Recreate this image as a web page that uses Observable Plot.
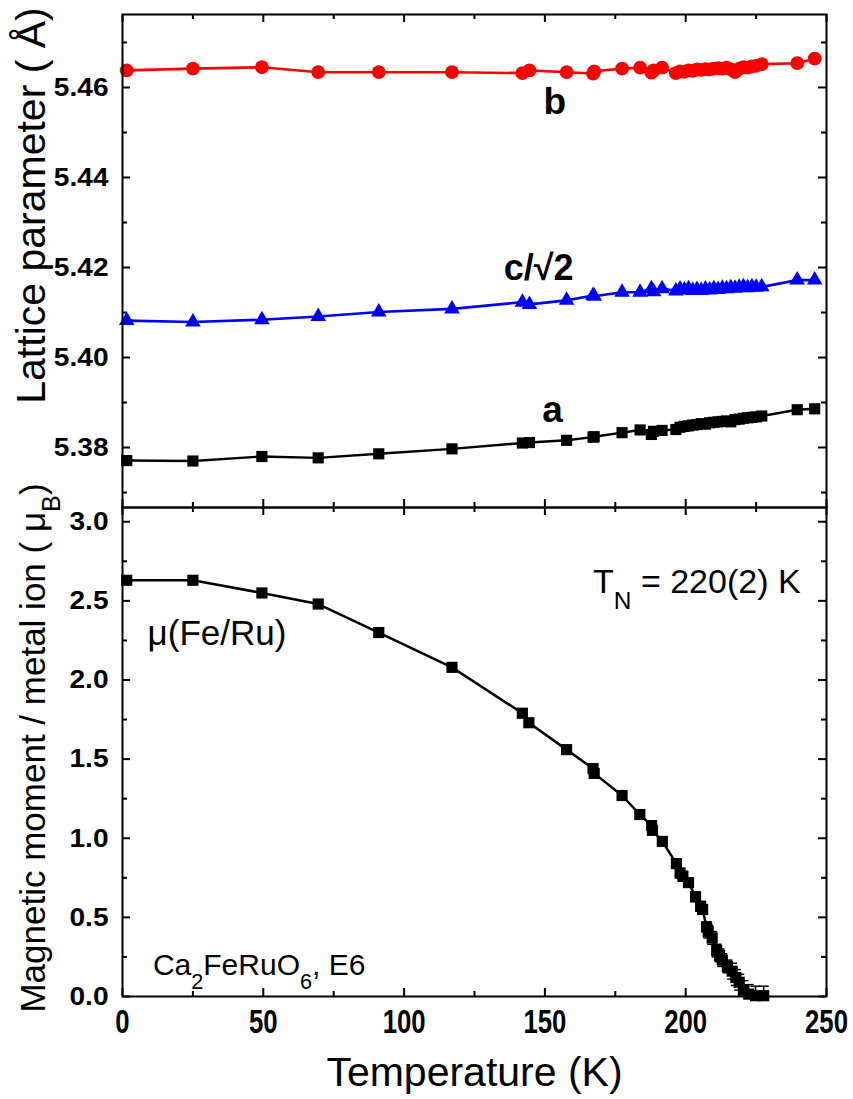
<!DOCTYPE html>
<html><head><meta charset="utf-8">
<script src="https://cdn.jsdelivr.net/npm/d3@7"></script>
<script src="https://cdn.jsdelivr.net/npm/@observablehq/plot@0.6"></script>
<style>
body{margin:0;background:#fff;}
#chart svg{display:block;}
</style></head><body><div id="chart"></div>
<script>
// ---------- data ----------
const temperature = [1.5, 25, 49.5, 69.5, 91, 117, 142, 144.5, 157.7, 167.1, 167.5, 177.4, 183.8, 187.8, 188.6, 191.6, 196.5, 198, 199.5, 201, 202.5, 204, 205.5, 207, 208.5, 210, 211.5, 213, 214.5, 216, 217.5, 219, 220.5, 222, 223.5, 225, 227, 239.6, 245.8];
const latticeA = [5.3771, 5.3770, 5.3780, 5.3777, 5.3786, 5.3797, 5.3810, 5.3811, 5.3816, 5.3823, 5.3824, 5.3833, 5.3839, 5.3829, 5.3836, 5.3838, 5.3840, 5.3845, 5.3847, 5.3848, 5.3850, 5.3851, 5.3853, 5.3852, 5.3855, 5.3856, 5.3857, 5.3858, 5.3859, 5.3857, 5.3862, 5.3863, 5.3865, 5.3866, 5.3867, 5.3868, 5.3870, 5.3884, 5.3886];
const latticeCsqrt2 = [5.4082, 5.4079, 5.4084, 5.4091, 5.4101, 5.4108, 5.4123, 5.4118, 5.4127, 5.4138, 5.4136, 5.4145, 5.4145, 5.4153, 5.4146, 5.4153, 5.4148, 5.4152, 5.4150, 5.4153, 5.4149, 5.4151, 5.4149, 5.4152, 5.4150, 5.4153, 5.4151, 5.4154, 5.4153, 5.4155, 5.4154, 5.4156, 5.4157, 5.4155, 5.4157, 5.4156, 5.4157, 5.4172, 5.4172];
const latticeB = [5.4638, 5.4642, 5.4645, 5.4634, 5.4634, 5.4634, 5.4632, 5.4638, 5.4634, 5.4631, 5.4636, 5.4642, 5.4644, 5.4633, 5.4638, 5.4644, 5.4632, 5.4636, 5.4635, 5.4638, 5.4637, 5.4640, 5.4639, 5.4641, 5.4640, 5.4642, 5.4643, 5.4642, 5.4644, 5.4640, 5.4634, 5.4642, 5.4645, 5.4644, 5.4647, 5.4648, 5.4652, 5.4654, 5.4664];

const momentT = [1.5, 25, 49.5, 69.5, 91, 117, 142, 144.3, 157.7, 167.1, 167.5, 177.4, 183.7, 187.9, 188.2, 191.7, 196.7, 198, 199, 201, 203.5, 205.3, 206, 207.4, 208, 209.4, 211, 212, 213, 214.8, 216.5, 217.8, 219, 220.5, 222.4, 224.8, 227.7];
const moment = [2.63, 2.63, 2.55, 2.48, 2.30, 2.08, 1.79, 1.73, 1.56, 1.44, 1.41, 1.27, 1.15, 1.08, 1.05, 0.98, 0.84, 0.78, 0.76, 0.72, 0.63, 0.57, 0.55, 0.44, 0.41, 0.37, 0.29, 0.26, 0.23, 0.19, 0.16, 0.12, 0.09, 0.04, 0.015, 0.005, 0.005];
const momentErr = [0.02, 0.02, 0.02, 0.02, 0.02, 0.02, 0.02, 0.02, 0.02, 0.02, 0.02, 0.02, 0.02, 0.02, 0.02, 0.02, 0.03, 0.03, 0.03, 0.03, 0.03, 0.03, 0.03, 0.03, 0.04, 0.04, 0.04, 0.04, 0.04, 0.04, 0.05, 0.05, 0.05, 0.06, 0.06, 0.06, 0.06];

const xTicks = [0, 50, 100, 150, 200, 250];
const xMinorTicks = [25, 75, 125, 175, 225];
const yTicksTop = [5.38, 5.40, 5.42, 5.44, 5.46];
const yMinorTop = [5.37, 5.39, 5.41, 5.43, 5.45, 5.47];
const yTicksBottom = [0, 0.5, 1.0, 1.5, 2.0, 2.5, 3.0];
const yMinorBottom = [0.25, 0.75, 1.25, 1.75, 2.25, 2.75];

// ---------- layout ----------
const W = 853, ML = 122, MR = 27;
const PW = W - ML - MR;
const FONT = "'Liberation Sans', Arial, Helvetica, sans-serif";

const lat = temperature.map((T, i) => ({T, a: latticeA[i], c: latticeCsqrt2[i], b: latticeB[i]}));
const mom = momentT.map((T, i) => ({T, m: moment[i], e: momentErr[i]}));

function frameTicks(xMaj, xMin, yMaj, yMin, PH) {
  const s = {stroke: "black", strokeWidth: 2};
  return [
    Plot.tickY(yMaj, {y: d => d, insetRight: PW - 8, ...s}),
    Plot.tickY(yMaj, {y: d => d, insetLeft: PW - 8, ...s}),
    Plot.tickY(yMin, {y: d => d, insetRight: PW - 5, ...s}),
    Plot.tickY(yMin, {y: d => d, insetLeft: PW - 5, ...s}),
    Plot.tickX(xMaj, {x: d => d, insetTop: PH - 8, ...s}),
    Plot.tickX(xMaj, {x: d => d, insetBottom: PH - 8, ...s}),
    Plot.tickX(xMin, {x: d => d, insetTop: PH - 5, ...s}),
    Plot.tickX(xMin, {x: d => d, insetBottom: PH - 5, ...s})
  ];
}

// subscripts written as _{...}
function applySubscripts(svg, shift = 0.45, scale = 0.72) {
  d3.select(svg).selectAll("text").each(function () {
    const t = this.textContent;
    if (!t.includes("_{")) return;
    const fs = parseFloat(getComputedStyle(this).fontSize) || 20;
    const parts = t.split(/(_\{[^}]*\})/).filter(p => p);
    this.textContent = "";
    let down = false;
    for (const p of parts) {
      const m = p.match(/^_\{(.*)\}$/);
      const ts = d3.select(this).append("tspan");
      if (m) {
        ts.text(m[1]).attr("font-size", fs * scale).attr("dy", fs * shift);
        down = true;
      } else {
        ts.text(p);
        if (down) { ts.attr("dy", -fs * shift); down = false; }
      }
    }
  });
}

// horizontally stretch/condense selected texts
function condense(svg, selector, k) {
  d3.select(svg).selectAll(selector).each(function () {
    const tr = this.getAttribute("transform") || "";
    this.setAttribute("transform", tr + ` scale(${k},1)`);
  });
}

// ---------- top panel ----------
const topH = 507, topMT = 14;
const topPH = topH - topMT;
const topPlot = Plot.plot({
  width: W, height: topH,
  marginLeft: ML, marginRight: MR, marginTop: topMT, marginBottom: 0,
  style: {fontFamily: FONT, background: "none", overflow: "visible", color: "black"},
  x: {domain: [0, 250], axis: null},
  y: {domain: [5.36667, 5.47622]},
  marks: [
    ...frameTicks(xTicks, xMinorTicks, yTicksTop, yMinorTop, topPH),
    Plot.line(lat, {x: "T", y: "b", stroke: "#ff0000", strokeWidth: 2.6}),
    Plot.line(lat, {x: "T", y: "c", stroke: "#0000ff", strokeWidth: 2.6}),
    Plot.line(lat, {x: "T", y: "a", stroke: "black", strokeWidth: 2.4}),
    Plot.dot(lat, {x: "T", y: "b", symbol: "circle", r: 6.9, fill: "#ff0000", stroke: "none"}),
    Plot.dot(lat, {x: "T", y: "c", symbol: "triangle", r: 5.8, fill: "#0000ff", stroke: "none"}),
    Plot.dot(lat, {x: "T", y: "a", symbol: "square", r: 6.3, fill: "black", stroke: "none"}),
    Plot.axisY({ticks: yTicksTop, tickSize: 0, tickPadding: 14, tickFormat: d3.format(".2f"), label: null, fontSize: 26, fontWeight: "bold"}),
    Plot.text(["b"], {x: 153.5, y: 5.4540, text: d => d, lineAnchor: "bottom", textAnchor: "middle", fontSize: 37, fontWeight: "bold"}),
    Plot.text(["c/\u221A2"], {x: 147.8, y: 5.4173, text: d => d, lineAnchor: "bottom", textAnchor: "middle", fontSize: 36, fontWeight: "bold"}),
    Plot.text(["a"], {x: 152.7, y: 5.3856, text: d => d, lineAnchor: "bottom", textAnchor: "middle", fontSize: 37, fontWeight: "bold"}),
    Plot.frame({stroke: "black", strokeWidth: 2}),
    Plot.text(["Lattice parameter ( \u00C5)"], {frameAnchor: "left", dx: -78, dy: 205 - (topMT + topPH / 2), rotate: -90, text: d => d, lineAnchor: "bottom", textAnchor: "middle", fontSize: 41})
  ]
});

// ---------- bottom panel ----------
const botH = 1099 - topH, botPH = 489;
const capSymbol = {draw(ctx, size) { const h = Math.sqrt(size / Math.PI); ctx.moveTo(-h, 0); ctx.lineTo(h, 0); }};
const botPlot = Plot.plot({
  width: W, height: botH,
  marginLeft: ML, marginRight: MR, marginTop: 0, marginBottom: botH - botPH,
  style: {fontFamily: FONT, background: "none", overflow: "visible", color: "black"},
  x: {domain: [0, 250]},
  y: {domain: [0, 3.09]},
  marks: [
    ...frameTicks(xTicks, xMinorTicks, yTicksBottom, yMinorBottom, botPH),
    Plot.ruleX(mom, {x: "T", y1: d => d.m - d.e, y2: d => d.m + d.e, stroke: "black", strokeWidth: 1.5, clip: true}),
    Plot.dot(mom, {x: "T", y: d => d.m + d.e, symbol: capSymbol, r: 5, stroke: "black", strokeWidth: 1.5, fill: "none", clip: true}),
    Plot.dot(mom, {x: "T", y: d => d.m - d.e, symbol: capSymbol, r: 5, stroke: "black", strokeWidth: 1.5, fill: "none", clip: true}),
    Plot.line(mom, {x: "T", y: "m", stroke: "black", strokeWidth: 2.5}),
    Plot.dot(mom, {x: "T", y: "m", symbol: "square", r: 6.3, fill: "black", stroke: "none"}),
    Plot.axisY({ticks: yTicksBottom, tickSize: 0, tickPadding: 14, tickFormat: d3.format(".1f"), label: null, fontSize: 26, fontWeight: "bold"}),
    Plot.axisX({ticks: xTicks, tickSize: 0, tickPadding: 13, tickFormat: d3.format("d"), label: null, fontSize: 33, fontWeight: "bold"}),
    Plot.text(["\u03BC(Fe/Ru)"], {x: 8.9, y: 2.218, text: d => d, lineAnchor: "bottom", textAnchor: "start", fontSize: 35}),
    Plot.text(["T_{N} = 220(2) K"], {x: 240.8, y: 2.5466, text: d => d, lineAnchor: "bottom", textAnchor: "end", fontSize: 34}),
    Plot.text(["Ca_{2}FeRuO_{6}, E6"], {x: 10.8, y: 0.133, text: d => d, lineAnchor: "bottom", textAnchor: "start", fontSize: 30}),
    Plot.frame({stroke: "black", strokeWidth: 2}),
    Plot.text(["Magnetic moment / metal ion ( \u03BC_{B})"], {frameAnchor: "left", dx: -78, dy: -4, rotate: -90, text: d => d, lineAnchor: "bottom", textAnchor: "middle", fontSize: 35}),
    Plot.text(["Temperature (K)"], {frameAnchor: "bottom", dy: 89, text: d => d, lineAnchor: "bottom", textAnchor: "middle", fontSize: 41})
  ]
});

const chart = document.getElementById("chart");
chart.append(topPlot, botPlot);
applySubscripts(topPlot);
applySubscripts(botPlot);
condense(botPlot, 'g[aria-label="x-axis tick label"] text', 0.78);
condense(topPlot, 'g[aria-label="y-axis tick label"] text', 1.08);
condense(botPlot, 'g[aria-label="y-axis tick label"] text', 1.08);
</script>
</body></html>
